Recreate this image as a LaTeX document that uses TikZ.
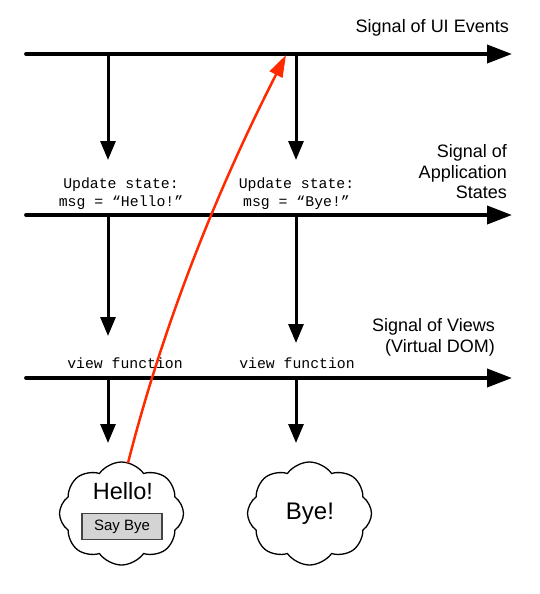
\documentclass[tikz,border=0pt]{standalone}
\usepackage{fontspec}
\setmainfont{Liberation Sans}
\setmonofont{Liberation Mono}
\usetikzlibrary{arrows.meta,shapes.symbols}
\definecolor{redarrow}{HTML}{FF2A00}
\definecolor{btnfill}{HTML}{D4D4D4}
\definecolor{btnborder}{HTML}{444444}
\tikzset{
  signal/.style={line width=3.8pt, line cap=round, -{Triangle[length=25pt,width=18pt]}},
  flow/.style={line width=3pt, -{Triangle[length=19pt,width=15pt]}},
  lbl/.style={font=\fontsize{18}{20.5}\selectfont, inner sep=0pt, anchor=east, align=right},
  code/.style={font=\ttfamily\fontsize{14.8}{18}\selectfont, inner sep=0pt, align=center},
  puff/.style={cloud, draw, line width=1.3pt, cloud puffs=8, cloud puff arc=110, cloud ignores aspect, minimum width=124pt, minimum height=103pt, inner sep=0pt},
  btn/.style={draw=btnborder, fill=btnfill, line width=1.8pt, minimum width=80pt, minimum height=26pt, inner sep=0pt, font=\fontsize{15}{18}\selectfont},
  event/.style={draw=redarrow, line width=2.5pt, -{Triangle[length=22pt,width=14pt]}}
}
\begin{document}
\begin{tikzpicture}[x=1pt,y=-1pt]
\path[use as bounding box] (0,0) rectangle (540,594);
% signal lines
\coordinate (s1a) at (26,54);  \coordinate (s1b) at (512,54);
\coordinate (s2a) at (26,215); \coordinate (s2b) at (512,215);
\coordinate (s3a) at (26,378); \coordinate (s3b) at (512,378);
\draw[signal] (s1a) -- (s1b);
\draw[signal] (s2a) -- (s2b);
\draw[signal] (s3a) -- (s3b);
% labels
\node[lbl] (l1) at (509,28) {Signal of UI Events};
\node[lbl] (l2) at (507,172) {Signal of\\Application\\States};
\node[lbl] (l3) at (495,337.5) {Signal of Views\\(Virtual DOM)};
% vertical flows
\coordinate (a1) at (108,54);  \coordinate (a1e) at (108,160);
\coordinate (b1) at (296,54);  \coordinate (b1e) at (296,160);
\coordinate (a2) at (108,215); \coordinate (a2e) at (108,336);
\coordinate (b2) at (296,215); \coordinate (b2e) at (296,343);
\coordinate (a3) at (108,378); \coordinate (a3e) at (108,443);
\coordinate (b3) at (296,378); \coordinate (b3e) at (296,443);
\draw[flow] (a1) -- (a1e);
\draw[flow] (b1) -- (b1e);
\draw[flow] (a2) -- (a2e);
\draw[flow] (b2) -- (b2e);
\draw[flow] (a3) -- (a3e);
\draw[flow] (b3) -- (b3e);
% code labels
\node[code] (u1) at (121,194) {Update state:\\msg = “Hello!”};
\node[code] (u2) at (296.5,194) {Update state:\\msg = “Bye!”};
\node[code] (v1) at (125,363) {view function};
\node[code] (v2) at (297,363) {view function};
% clouds
\node[puff] (c1) at (121.5,513.5) {};
\node[puff] (c2) at (309.5,513.5) {};
\node[font=\fontsize{23.5}{26}\selectfont, inner sep=0pt] (hello) at (123,491) {Hello!};
\node[btn] (sb) at (122,526.5) {Say Bye};
\node[font=\fontsize{24}{26}\selectfont, inner sep=0pt] (bye) at (310,514) {Bye!};
% event arrow
\coordinate (ev) at (286,55);
\draw[event] (128,463) .. controls (160,337) and (210,204) .. (ev);
\end{tikzpicture}
\end{document}
